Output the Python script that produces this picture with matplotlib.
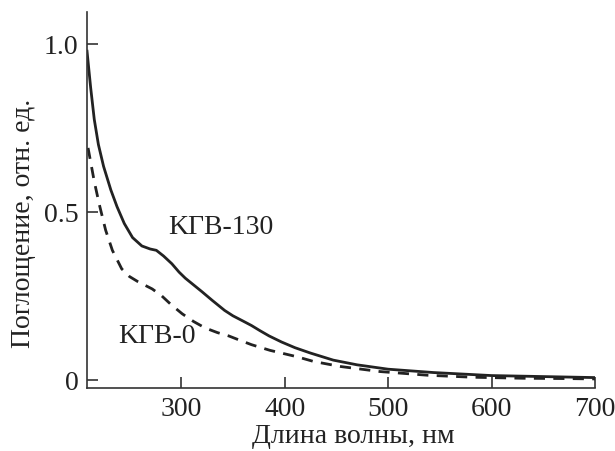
import matplotlib.pyplot as plt

plt.rcParams['font.family'] = ['Liberation Serif', 'DejaVu Serif']

# KGV-130 (solid)
wl_130 = [209, 212.5, 216, 220, 225, 232, 238, 245, 253, 262, 270, 276, 283, 291, 298, 304,
          312, 320, 330, 342, 350, 360, 368, 376, 385, 397, 410, 425, 447, 470, 500, 544,
          600, 650, 700]
abs_130 = [0.978, 0.87, 0.775, 0.70, 0.635, 0.565, 0.515, 0.465, 0.423, 0.398, 0.389, 0.385,
           0.368, 0.345, 0.320, 0.302, 0.282, 0.262, 0.236, 0.206, 0.19, 0.174, 0.161, 0.146,
           0.130, 0.112, 0.095, 0.079, 0.058, 0.044, 0.031, 0.021, 0.012, 0.009, 0.006]

# KGV-0 (dashed)
wl_0 = [210, 213, 216, 221, 227, 233.5, 242.5, 250, 258, 265, 272, 281, 290, 301, 312, 323,
        335, 346, 356, 368, 386, 412, 428, 454, 492, 538, 582, 630, 673, 700]
abs_0 = [0.69, 0.64, 0.59, 0.52, 0.445, 0.385, 0.33, 0.307, 0.292, 0.281, 0.270, 0.250, 0.224,
         0.196, 0.173, 0.154, 0.140, 0.130, 0.118, 0.104, 0.087, 0.068, 0.054, 0.039, 0.024,
         0.013, 0.007, 0.004, 0.003, 0.002]

fig = plt.figure(figsize=(6.15, 4.52), dpi=100)
ax = fig.add_axes([0.1415, 0.1394, 0.826, 0.832])

ax.plot(wl_130, abs_130, color='#222222', lw=2.0, solid_joinstyle='round')
ax.plot(wl_0, abs_0, color='#222222', lw=2.0, ls=(0, (4, 3)))

ax.set_xlim(209, 700)
ax.set_ylim(-0.025, 1.095)
ax.set_xticks([300, 400, 500, 600, 700])
ax.set_yticks([0, 0.5, 1.0])
ax.set_yticklabels(['0', '0.5', '1.0'])

for s in ['top', 'right']:
    ax.spines[s].set_visible(False)
for s in ['left', 'bottom']:
    ax.spines[s].set_linewidth(1.2)
    ax.spines[s].set_color('#333333')

ax.tick_params(direction='in', length=8, width=1.2, colors='#333333',
               labelsize=20, labelcolor='#222222', pad=6)

ax.set_xlabel('Длина волны, нм', fontsize=20, color='#222222')
ax.set_ylabel('Поглощение, отн. ед.', fontsize=20, color='#222222')
ax.xaxis.set_label_coords(0.525, -0.094)
ax.yaxis.set_label_coords(-0.100, 0.441)

ax.text(287, 0.457, 'KГВ-130', fontsize=20, color='#222222', va='center')
ax.text(239, 0.131, 'KГВ-0', fontsize=20, color='#222222', va='center')

fig.savefig('out.png', dpi=100)
